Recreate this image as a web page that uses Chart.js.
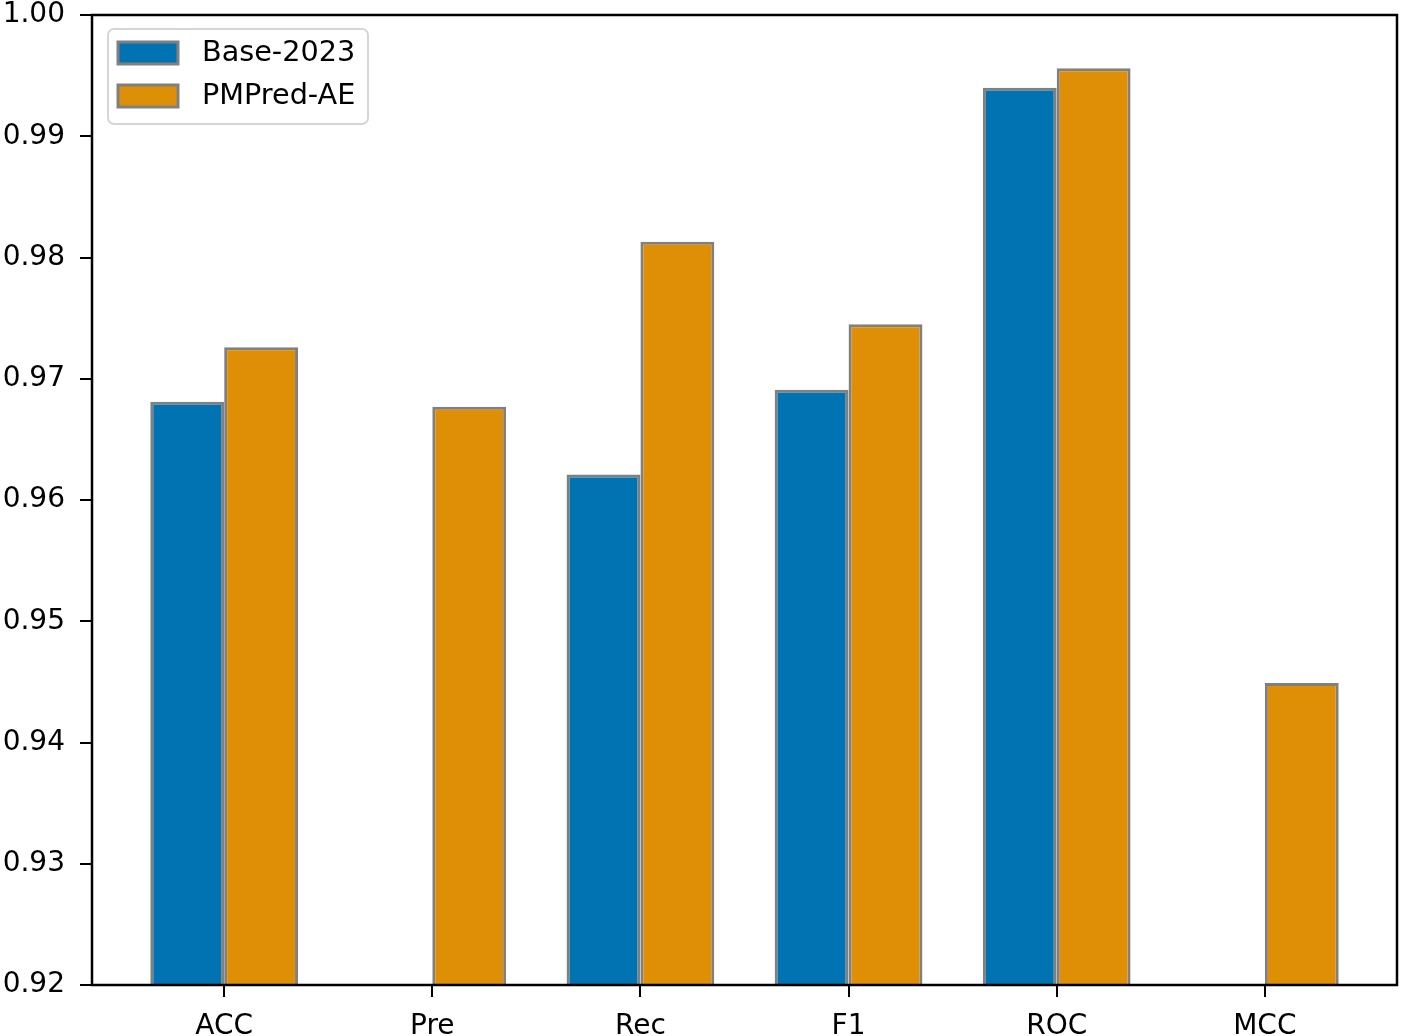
<!DOCTYPE html>
<html>
<head>
<meta charset="utf-8">
<script src="https://cdn.jsdelivr.net/npm/chart.js@4.4.1/dist/chart.umd.min.js"></script>
<style>
  html, body { margin: 0; padding: 0; background: #fff; overflow: hidden; }
  canvas { position: absolute; left: 0; top: -14px; }
</style>
</head>
<body>
<canvas id="c" width="1403" height="1050"></canvas>
<script>
// ---- data ----
const categories = ['ACC', 'Pre', 'Rec', 'F1', 'ROC', 'MCC'];
const seriesNames = ['Base-2023', 'PMPred-AE'];
const base2023 = [0.9681, null, 0.9621, 0.9691, 0.9940, null];
const pmpredAE = [0.9726, 0.9677, 0.9813, 0.9745, 0.9956, 0.9449];
const yTicks = [0.92, 0.93, 0.94, 0.95, 0.96, 0.97, 0.98, 0.99, 1.00];

const colors = ['#0173b2', '#de8f05'];
const edge = '#808080';
const FONT = 'DejaVu Sans';

const toPoints = arr => arr.map((v, i) => ({ x: i, y: v }));

const framePlugin = {
  id: 'frame',
  afterDatasetsDraw(chart) {
    const { ctx, chartArea: a } = chart;
    ctx.save();
    ctx.strokeStyle = '#000';
    ctx.lineWidth = 2.5;
    ctx.strokeRect(a.left, a.top, a.right - a.left, a.bottom - a.top);
    ctx.restore();
  }
};

const legendPlugin = {
  id: 'mplLegend',
  afterDraw(chart) {
    const { ctx, chartArea: a } = chart;
    const x0 = a.left + 16, y0 = a.top + 14, w = 260, h = 95, r = 6;
    ctx.save();
    ctx.beginPath();
    ctx.roundRect(x0, y0, w, h, r);
    ctx.fillStyle = 'rgba(255,255,255,0.8)';
    ctx.fill();
    ctx.strokeStyle = '#d6d6d6';
    ctx.lineWidth = 2;
    ctx.stroke();
    ctx.font = '28.7px "' + FONT + '"';
    ctx.textBaseline = 'middle';
    ctx.textAlign = 'left';
    chart.data.datasets.forEach((ds, i) => {
      const py = y0 + 13 + i * 43;
      ctx.fillStyle = ds.backgroundColor;
      ctx.fillRect(x0 + 10, py, 60, 22);
      ctx.strokeStyle = edge;
      ctx.lineWidth = 3;
      ctx.strokeRect(x0 + 10, py, 60, 22);
      ctx.fillStyle = '#000';
      ctx.fillText(ds.label, x0 + 94, py + 12);
    });
    ctx.restore();
  }
};

new Chart(document.getElementById('c'), {
  type: 'bar',
  data: {
    datasets: [
      { label: seriesNames[0], data: toPoints(base2023), backgroundColor: colors[0], borderColor: edge, borderWidth: 3 },
      { label: seriesNames[1], data: toPoints(pmpredAE), backgroundColor: colors[1], borderColor: edge, borderWidth: 3 }
    ]
  },
  options: {
    responsive: false,
    devicePixelRatio: 1,
    animation: false,
    categoryPercentage: 0.71,
    barPercentage: 1.0,
    layout: { padding: { top: 0, right: 6, left: 0, bottom: 0 } },
    plugins: { legend: { display: false }, tooltip: { enabled: false } },
    scales: {
      x: {
        type: 'linear',
        min: -0.635,
        max: 5.635,
        offset: false,
        border: { display: false },
        grid: { display: true, offset: false, drawOnChartArea: false, drawTicks: true, tickLength: 12, color: '#000', lineWidth: 2 },
        afterBuildTicks: s => { s.ticks = categories.map((_, i) => ({ value: i })); },
        afterFit: s => { s.height = 51; },
        ticks: {
          autoSkip: false,
          maxRotation: 0,
          padding: 16,
          color: '#000',
          font: { family: FONT, size: 28, lineHeight: 1 },
          callback: v => categories[v]
        }
      },
      y: {
        min: yTicks[0],
        max: yTicks[yTicks.length - 1],
        border: { display: false },
        grid: { display: true, drawOnChartArea: false, drawTicks: true, tickLength: 12, color: '#000', lineWidth: 2 },
        afterBuildTicks: s => { s.ticks = yTicks.map(v => ({ value: v })); },
        afterFit: s => { s.width = 92; },
        ticks: {
          padding: 15,
          color: '#000',
          font: { family: FONT, size: 28, lineHeight: 1 },
          callback: v => Number(v).toFixed(2)
        }
      }
    }
  },
  plugins: [framePlugin, legendPlugin]
});
</script>
</body>
</html>
